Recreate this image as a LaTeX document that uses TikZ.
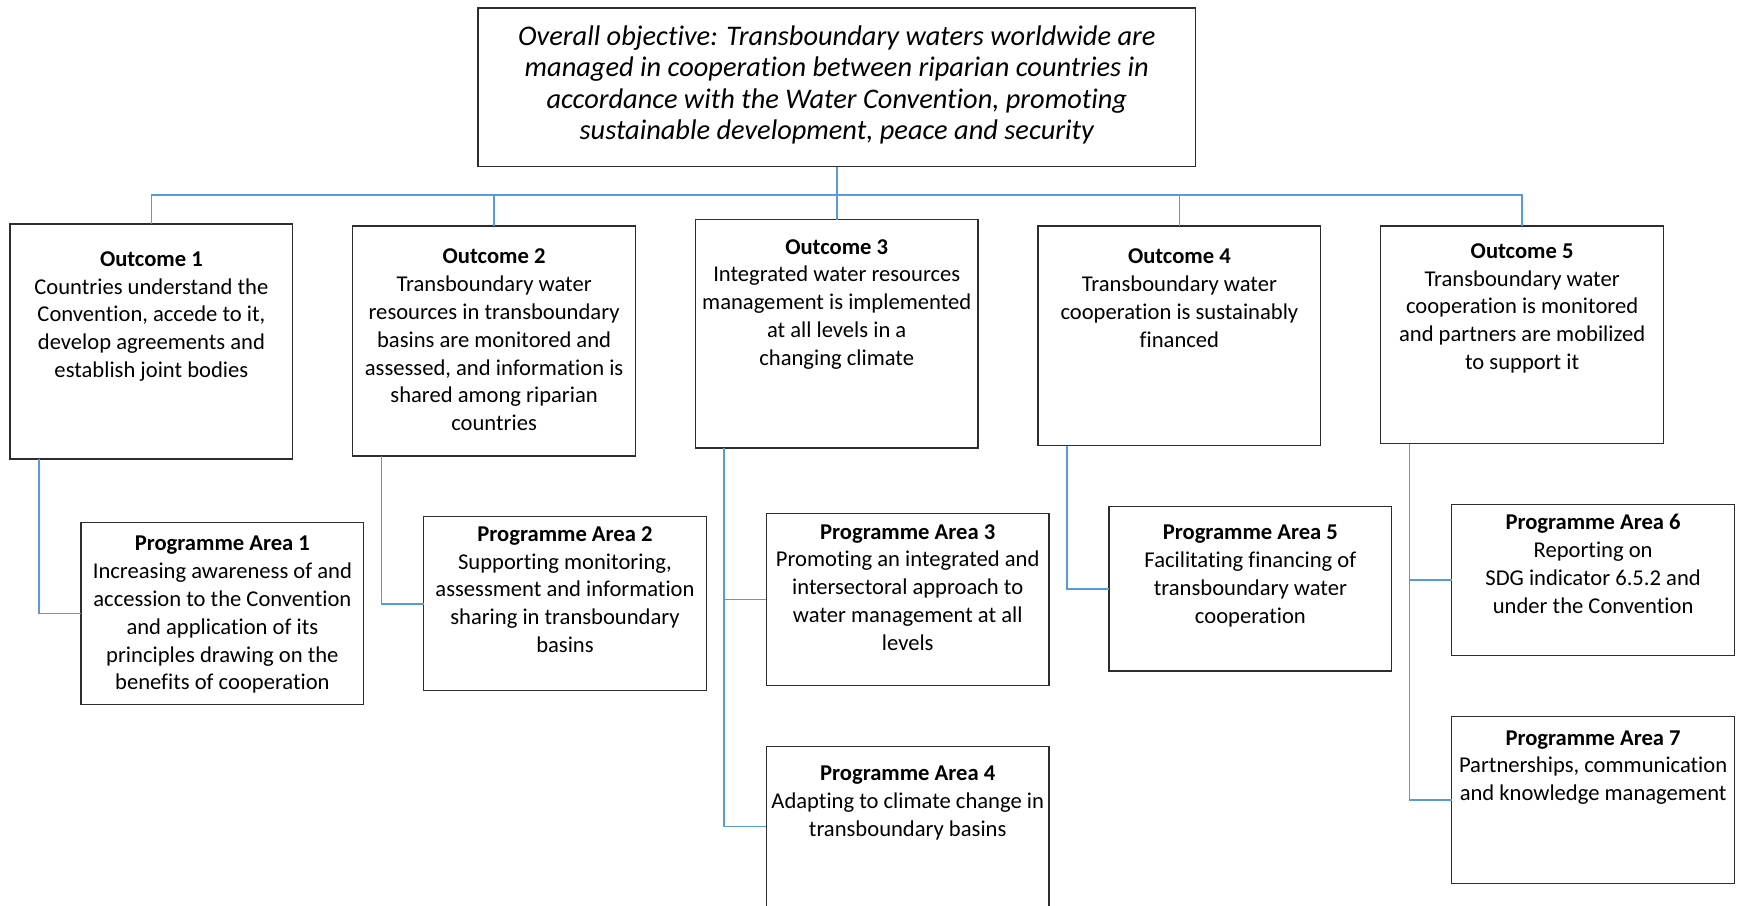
\documentclass[tikz,border=0pt]{standalone}
\usepackage{fontspec}
\setmainfont{Carlito}[Ligatures=NoCommon]
\usetikzlibrary{positioning}
\definecolor{boxgray}{RGB}{45,45,45}
\definecolor{linkblue}{RGB}{91,155,213}

\begin{document}
\begin{tikzpicture}[x=0.5pt,y=-0.5pt,
  box/.style={draw=boxgray,line width=0.65pt,anchor=north west,inner sep=0pt,outer sep=0pt,minimum width=141.4pt},
  txt/.style={anchor=north,align=center,inner sep=0pt,font=\fontsize{11.3}{13.9}\selectfont},
  link/.style={draw=linkblue,line width=0.8pt}]
\clip (0,0) rectangle (1739,905);
% objective and outcomes
\node[box,minimum width=358.8pt,minimum height=79.3pt] (obj) at (478,8) {};
\node[box,minimum height=117.5pt] (o1) at (10,224) {};
\node[box,minimum height=115pt] (o2) at (352.7,226) {};
\node[box,minimum height=114.2pt] (o3) at (695.3,219.6) {};
\node[box,minimum height=109.9pt] (o4) at (1038,226) {};
\node[box,minimum height=108.8pt] (o5) at (1380.7,226) {};
% programme areas
\node[box,minimum height=91pt] (pa1) at (81,522.3) {};
\node[box,minimum height=87pt] (pa2) at (423.6,516.8) {};
\node[box,minimum height=86pt] (pa3) at (766.3,513.5) {};
\node[box,minimum height=80pt] (pa4) at (766.3,746.4) {};
\node[box,minimum height=82.1pt] (pa5) at (1109,506.8) {};
\node[box,minimum height=75.4pt] (pa6) at (1451.7,504.6) {};
\node[box,minimum height=83.7pt] (pa7) at (1451.7,716.4) {};

\node[txt,font=\fontsize{14.2}{15.7}\selectfont\itshape] (objt) at ([yshift=-8.6pt]obj.north)
  {Overall objective: Transboundary waters worldwide are\\managed in cooperation between riparian countries in\\accordance with the Water Convention, promoting\\sustainable development, peace and security};
\node[txt] (o1t) at ([yshift=-13.5pt]o1.north)
  {\textbf{Outcome 1}\\Countries understand the\\Convention, accede to it,\\develop agreements and\\establish joint bodies};
\node[txt] (o2t) at ([yshift=-11.3pt]o2.north)
  {\textbf{Outcome 2}\\Transboundary water\\resources in transboundary\\basins are monitored and\\assessed, and information is\\shared among riparian\\countries};
\node[txt] (o3t) at ([yshift=-9.6pt]o3.north)
  {\textbf{Outcome 3}\\Integrated water resources\\management is implemented\\at all levels in a\\changing climate};
\node[txt] (o4t) at ([yshift=-11.3pt]o4.north)
  {\textbf{Outcome 4}\\Transboundary water\\cooperation is sustainably\\financed};
\node[txt] (o5t) at ([yshift=-8.5pt]o5.north)
  {\textbf{Outcome 5}\\Transboundary water\\cooperation is monitored\\and partners are mobilized\\to support it};
\node[txt] (pa1t) at ([yshift=-6.8pt]pa1.north)
  {\textbf{Programme Area 1}\\Increasing awareness of and\\accession to the Convention\\and application of its\\principles drawing on the\\benefits of cooperation};
\node[txt] (pa2t) at ([yshift=-4.6pt]pa2.north)
  {\textbf{Programme Area 2}\\Supporting monitoring,\\assessment and information\\sharing in transboundary\\basins};
\node[txt] (pa3t) at ([yshift=-5.2pt]pa3.north)
  {\textbf{Programme Area 3}\\Promoting an integrated and\\intersectoral approach to\\water management at all\\levels};
\node[txt] (pa4t) at ([yshift=-9.6pt]pa4.north)
  {\textbf{Programme Area 4}\\Adapting to climate change in\\transboundary basins};
\node[txt] (pa5t) at ([yshift=-9pt]pa5.north)
  {\textbf{Programme Area 5}\\Facilitating financing of\\transboundary water\\cooperation};
\node[txt] (pa6t) at ([yshift=-4.6pt]pa6.north)
  {\textbf{Programme Area 6}\\Reporting on\\SDG indicator 6.5.2 and\\under the Convention};
\node[txt] (pa7t) at ([yshift=-6.8pt]pa7.north)
  {\textbf{Programme Area 7}\\Partnerships, communication\\and knowledge management};

% connectors
\coordinate (bus) at (0,195);
\foreach \n in {o1,o2,o3,o4,o5}
  \draw[link] (obj.south) -- (obj.south |- bus) -| (\n.north);
\draw[link] ([xshift=14.4pt]o1.south west) |- (pa1.west);
\draw[link] ([xshift=14.4pt]o2.south west) |- (pa2.west);
\draw[link] ([xshift=14.4pt]o3.south west) |- (pa3.west);
\draw[link] ([xshift=14.4pt]o3.south west) |- (pa4.west);
\draw[link] ([xshift=14.4pt]o4.south west) |- (pa5.west);
\draw[link] ([xshift=14.4pt]o5.south west) |- (pa6.west);
\draw[link] ([xshift=14.4pt]o5.south west) |- (pa7.west);
\end{tikzpicture}
\end{document}
